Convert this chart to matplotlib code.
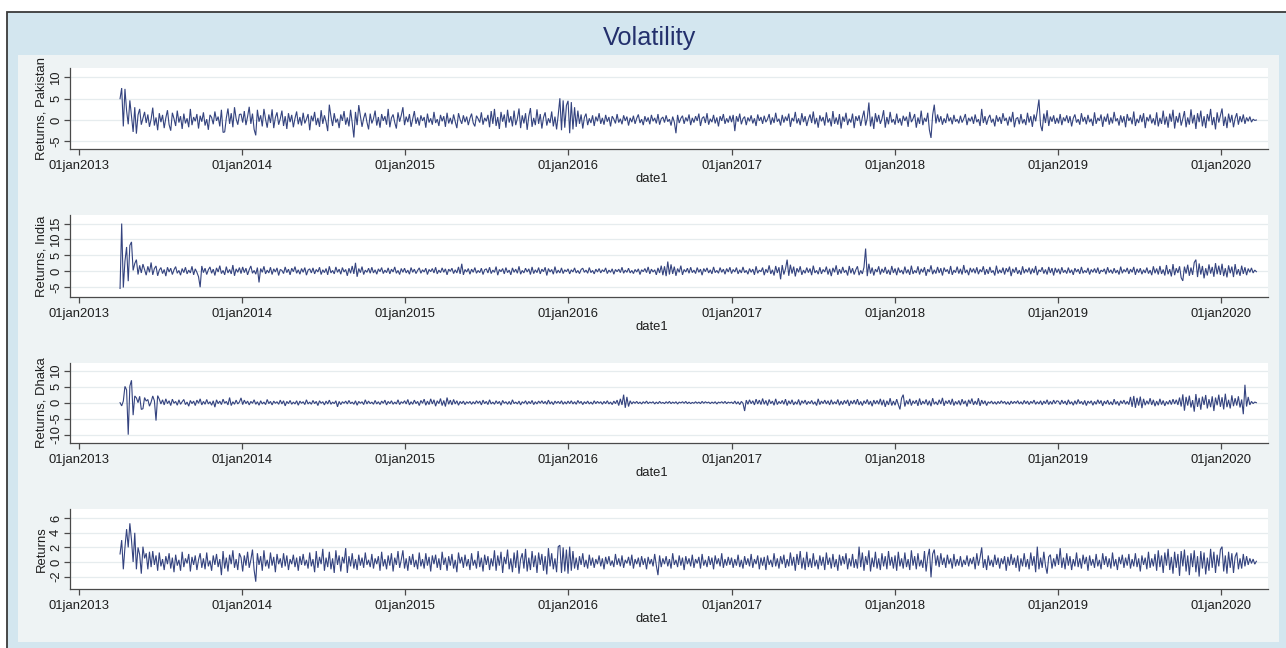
import matplotlib
matplotlib.use("Agg")
import matplotlib.pyplot as plt
import matplotlib.dates as mdates
from matplotlib.patches import Rectangle
from matplotlib.ticker import FuncFormatter, FixedLocator
import pandas as pd
import datetime as dt

plt.rcParams['font.family'] = ['Liberation Sans', 'DejaVu Sans']
plt.rcParams['axes.unicode_minus'] = False

# ---------------- data ----------------
start_date = "2013-04-03"
end_date = "2020-03-20"

pakistan = [
    # 2013
    5,7.5,-1.5,7.3,2.2,-1,4.6,1,-2.8,3,-3.2,1.2,2.6,-1.1,.4,1.9,-.7,1.3,-1.6,.2,2.9,-1.3,.6,-2.4,1.6,-.5,1.2,-1.9,.5,2.3,-1.1,-2.5,1.7,.3,-1.4,2.2,-.6,.9,-2.1,1.5,
    -.8,.4,-1.7,2.6,-1.2,.7,-.3,1.4,-2,1,-.4,1.8,-1.3,.2,-2.3,1.2,.6,-1,2,-.2,.8,-1.5,2.4,-2.9,-2.8,.5,2.7,-.9,1.6,-1.7,3,.3,-1.1,1.3,
    # 2014
    1.4,-.6,2.1,-1.2,.8,3.1,-.9,1.5,-2.2,-3.6,2.4,-.4,1.1,-1.5,2.6,.2,-1.8,1.3,-.7,2.5,
    -1.9,.6,1.8,-1.1,.3,2.2,-1.4,.9,-2.1,1.6,-.5,1.2,-1.7,.4,2,-1,.7,-1.3,1.7,-.8,
    .2,1.4,-2.4,1,-.3,1.9,-1.2,.5,-1.6,2.3,-.9,1.1,-.4,-2.6,3.6,.8,-1.4,1.6,-.6,.3,
    -1.9,1.3,-.2,2.1,-1.1,.6,-1.5,2.4,-.7,-4.1,1.9,-1.2,3.5,.9,-1.6,.4,1.7,-.5,-2.2,1.5,
    -.8,.3,2.2,-1.3,.7,-1.8,1.4,-.2,.9,-1.1,2.6,-1.7,.5,1.3,-.6,-2,1.8,-.4,1.1,3,
    # 2015
    -1.2,.8,-.5,1.4,-1.6,.3,2.1,-.9,.6,-1.3,1.1,-.2,.7,-1.8,1.5,-.6,.4,-1.1,1.9,-.7,
    .2,-1.4,1.2,-.3,.9,-1.6,1.7,-.8,.5,-1,1.3,-.4,-1.9,1.6,.1,-.9,1.1,-.5,.8,-1.2,
    .4,1.5,-.7,-1.5,1,.3,-.6,1.8,-1.1,.5,-.3,1.2,-1.7,2.1,-.9,2.6,-1.4,.7,-2.1,1.9,
    -.4,1.3,-1.8,2.4,-.6,.9,-1.5,2.2,-1.2,.3,2.7,-1.9,1.1,-.8,1.6,-2.3,.9,2.8,-1.6,.5,
    -1.2,2.5,-.9,1.4,-2,.6,1.8,-1.3,.4,-.7,2,-1.5,.8,-2.2,1.2,5.1,-2.4,4.6,-1.8,3.4,
    # 2016
    4.5,-3.1,4.2,-2.2,3,-1.6,2.2,-.9,1.3,-2,.6,1.5,-1.2,.4,-.7,1.1,-1.4,.8,-.3,1.6,
    -.9,.5,-1.1,1.2,-.4,.7,-1.5,.9,.2,-.8,1.4,-.6,.3,-1,1.1,-.2,.8,-1.3,.5,-.5,
    1,-.9,.4,1.3,-.7,.2,-1.2,.9,-.4,.6,-1,1.2,-.3,.5,-.8,1.4,-1.1,.3,.7,-.6,
    1.1,-.4,.2,-1.3,.8,-.5,-3.1,1.2,-.7,.4,1,-.9,.6,-.3,1.3,-1.2,.5,-.6,.9,-.2,
    1.5,-1.4,.4,.8,-.7,1.6,-1.1,.3,-.5,1.2,-.8,.6,-1.5,.9,-.2,1.4,-.9,.4,-.6,1,
    # 2017
    -.5,1.2,-2.6,.9,-.4,1.5,-1,.3,.8,-1.2,.6,-.3,1.1,-.8,.4,-1.4,1.3,-.2,.7,-.9,
    1,-.5,.2,1.4,-1.1,.6,-.7,1.7,-.4,.3,-1.3,1.2,-.6,.8,-.2,1.5,-1.6,.5,-.3,1.9,
    -.8,.4,-1.2,1.6,-.5,.9,-1.4,.2,1.3,-.7,2,-1,.5,-1.8,1.1,-.3,.7,-1.3,1.8,-.6,
    .4,-1.5,2.1,-.9,.6,-1.1,1.4,-2,.8,-.4,1.7,-1.2,.3,-.6,1.5,-1.9,.9,-.2,1.1,-1.4,
    .6,2.2,-1.3,.4,4.1,-1.5,.8,-2.1,1.6,-.5,1.2,-.9,.3,2.3,-1.8,.7,-1,1.9,-.6,.2,
    # 2018
    -1.1,1.5,-.7,.4,-1.3,1,-.2,.8,-1.6,1.9,-.5,.3,1.4,-1.8,.6,-.9,2.2,-1.2,.5,-.4,
    1.7,-2.3,-4.2,1.2,3.6,-.8,1.3,-.5,.9,-1.1,.4,-.7,1.5,-.3,.6,-1,1.2,-.4,.2,-.8,
    1,-.6,.3,1.4,-1.2,.5,-.3,.8,-.9,1.3,-.5,.2,-1.4,2.6,-.7,.9,-1.1,.4,1.2,-.6,
    .3,-1.5,1.1,-.4,.7,-.9,1.6,-.2,.5,-1.3,.8,-.5,1.9,-1.7,.3,.6,-1,1.4,-.8,.2,
    -1.2,1.7,-.6,.9,-1.6,1.3,-.3,2.1,4.8,-1.2,-2.6,1.5,-.7,2.3,-1.4,.8,-.4,1.1,-.9,.5,
    # 2019
    -.8,1.4,-1.2,.6,-.3,1.1,-.7,.9,-1.5,.4,1.3,-.6,.2,-1.1,1.6,-.4,.7,-1,1.2,-.5,
    .3,-1.4,1.8,-.9,.5,-.2,1.3,-1.6,.8,-.4,1.5,-1.1,.6,-.8,1.9,-.3,.4,-1.3,1.1,-.6,
    .9,-1.7,1.4,-.2,.6,-1,2,-1.4,.3,-.7,1.2,-.5,1.6,-1.9,.7,-.3,1.3,-.8,.4,-1.2,
    1.8,-1.5,.5,-.9,2.2,-1.1,.8,-1.8,1.5,-.4,2.4,-2,.9,-.6,1.7,-1.3,.3,2.1,-1.7,.6,
    -1.1,2.5,-.8,1.2,-2.1,1.6,-.5,2.2,-1.5,.9,-1.9,1.4,-.3,2.6,-1.2,.7,-2.2,1.8,-.6,1.1,
    # 2020
    2.7,-1.4,.8,-1.9,1.5,-.6,1.2,-1.7,.4,1.6,-1.1,.9,-.5,1.3,-.9,.6,-.3,.8,-.5,.2,-.1,0,
]

india = [
    # 2013
    -5.5,15,-5.2,3.1,7.6,-3.2,8.1,9.2,.2,2.4,3.6,-1.1,1.8,-.6,2.2,.4,-1.3,1.5,-.4,2.7,
    -1.2,.8,1.6,-1.5,.3,1.1,-.8,.5,-1.6,1.2,-.3,.9,-1.1,.4,1.4,-.7,.2,-1.3,.8,-.5,
    1.2,-.9,.3,-.6,1.5,-1.2,.7,-.4,-1.8,-5.1,1.6,-.5,.9,-1.1,.4,1.3,-.7,.6,-1.4,1,
    -.3,1.7,-.8,.2,-1.2,1.4,-.6,.5,-.9,1.9,-1.5,.7,-.4,1.1,
    # 2014
    -.8,1.3,-.5,.9,-1.2,.4,1.6,-.7,.2,-1,1.1,-3.6,.8,-.4,1.5,-.9,.3,-.6,1.2,-1.1,
    .7,-.3,1,-1.4,.5,.2,-.8,1.3,-.5,.6,-1.2,.9,-.2,1.4,-.7,.4,-1,.8,-.4,1.1,
    -1.3,.3,.7,-.6,1,-.9,.5,-.3,1.2,-1.1,.4,-.5,.8,-1.2,1.5,-.6,.2,-.9,1.3,-.4,
    .6,-1,1.1,-.3,.5,-1.5,.9,-.7,1.6,-.9,2.6,-1.8,.8,-.5,1.4,-1.1,.3,-.4,.9,-.7,
    1.2,-.6,.4,-1,.7,-.2,1.1,-.8,.3,-.5,1,-.9,.6,-.3,1.3,-.7,.2,-1.1,.8,-.4,
    # 2015
    .9,-.6,.3,-1,1.1,-.4,.6,-.8,.2,1,-.7,.4,-.3,.9,-1.1,.5,-.2,.8,-.6,1.2,
    -.9,.3,-.5,1,-.4,.7,-1.2,.6,-.1,.9,-.8,.4,-.6,1.3,-.9,2.3,-1.2,.5,-.3,.8,
    -1,.6,-.4,1.1,-.7,.2,-.5,.9,-1.1,.4,.7,-.6,1.2,-.8,.3,-.4,1.4,-1.3,.5,-.2,
    .8,-.9,1.1,-.5,.3,-1.2,1,-.4,.6,-.7,1.5,-1,.2,-.6,.9,-.3,.7,-1.1,1.3,-.8,
    .4,-.5,1.1,-.9,.6,-.2,1.2,-1.4,.8,-.3,.5,-1,1.4,-.7,.3,-.6,1,-.8,.4,-.2,
    # 2016
    .7,-.9,.4,-.3,1,-.6,.2,-.8,.5,.9,-.4,.3,-.7,1.1,-.5,.2,-.9,.6,-.3,.8,
    -.6,.4,-.2,1,-.8,.3,-.4,.7,-1,.5,-.2,.6,-.5,1.2,-.7,.3,-.4,.9,-.6,.2,
    -.8,.5,-.3,.7,-1.1,.4,-.2,.8,-.5,1.3,-.9,.6,-.3,.4,-1.2,1,-.6,1.7,-1.3,1.5,
    -1.6,3,-1.1,2.1,-.9,1.4,-1.5,.8,-.4,1.7,-1.2,.5,-.3,.9,-.7,1.2,-.5,.3,-.8,1.1,
    -.4,.6,-1.3,.8,-.2,1,-.6,.4,-.9,1.3,-.5,.2,-.7,1.1,-.4,.6,-1,.8,-.3,1.2,
    # 2017
    -.8,.5,-.3,1.1,-.9,.4,-.6,1.3,-.5,.2,-1,.8,-.4,.6,-1.2,1.5,-.7,.3,-.2,1.1,
    -1.3,.6,-.5,1.8,-.9,.4,-1.4,1.6,-.6,1.2,-2.6,1.9,-1.1,.7,3.6,-1.5,2,-.8,1.4,-1.7,
    .9,-.4,1.5,-1.2,.3,-.7,1.1,-.5,.8,-1.3,1.7,-.6,.2,-1,1.2,-.9,.5,-.3,1.4,-1.1,
    .7,-1.6,1,-.4,1.8,-1.2,.6,-.8,1.3,-.5,.3,-1.4,1.6,-.7,.9,-1.1,.4,1.5,-1.3,.2,
    -.9,1.2,7.1,-1.6,2.3,-.8,1.1,-1.4,.6,-.3,1.5,-1.1,.7,-.5,1.3,-.9,.4,-1.2,1.6,-.6,
    # 2018
    .8,-1.3,1.1,-.5,.3,-1,1.4,-.7,.5,-1.2,1.7,-.9,.2,-.6,1.5,-1.1,.7,-.4,1.2,-1.5,
    .6,-.3,1.8,-1,.4,-.8,1.3,-.6,.9,-1.4,1.1,-.2,.5,-.9,1.6,-1.2,.3,-.5,1.4,-.8,
    .7,-1.1,1.9,-.6,.4,-1.3,1,-.4,.8,-.7,1.2,-1,.5,-.3,1.5,-1.2,.6,-.9,1.3,-.5,
    .2,-1.4,1.7,-.8,.4,-.6,1.1,-1.1,.9,-.3,1.4,-1.6,.7,-.5,1.2,-.9,.3,-1.2,1.5,-.7,
    .6,-.4,1.1,-1,.8,-.6,1.6,-1.3,.4,-.2,1.2,-.8,.5,-1.1,1.3,-.6,.9,-1.4,1,-.5,
    # 2019
    .7,-1,1.2,-.5,.3,-.8,1.1,-.6,.4,-1.2,.9,-.3,.6,-.9,1.3,-.7,.2,-.5,1,-1.1,
    .5,-.4,.8,-.6,1.1,-.9,.3,-.2,.7,-1,1.2,-.5,.4,-.8,.9,-.6,.3,-1.1,1.4,-.7,
    .5,-.3,1,-.9,.6,-.4,1.3,-1.2,.7,-.5,.9,-1,.4,-.6,1.1,-.8,.3,-1.3,1.5,-.7,
    .8,-1.1,1.6,-.9,.5,-1.4,1.9,-1,.6,-1.7,2.2,-1.3,.9,-.6,1.5,-2.1,-3.1,1.4,-.8,2,
    -1.5,1.1,-1.2,2.7,3.6,-1.9,2.4,-1.1,1.6,-2.3,.9,-1.4,2.1,-.8,1.3,-1.8,2.5,-1,1.7,-1.2,
    # 2020
    2.3,-1.6,.9,-2,1.8,-.7,1.4,-1.9,2.2,-1.1,.6,-1.5,1.7,-.9,1.2,-1.3,.8,-.4,1,-.6,.3,-.2,
]

dhaka = [
    # 2013
    0,-1,.5,5.1,4,-10,5.2,7,-3.9,2.1,1.5,0,2,-2.1,-1.9,1.6,.5,1,-1.1,.2,2.1,.6,-5.6,2.2,1.1,-.4,.9,-.7,1.2,-.3,
    .6,-.9,1.1,-.2,.4,-.8,.9,-.5,.3,1,-.6,.2,-1.1,.7,-.3,.5,-.9,.8,-.2,1.2,
    -.7,.4,-.5,1,-.4,.3,-.8,.6,-1.4,.9,-.3,.5,-.6,1.1,-.2,.4,-.7,1.6,-.9,.3,-.5,.8,-.4,.2,
    # 2014
    1.5,-.6,.8,-.3,.5,-.7,.4,-.2,.9,-.5,.3,-.8,.6,-.4,.2,-.6,1,-.3,.4,-.7,
    .5,-.2,.3,-.5,.8,-.4,.6,-1,.4,-.3,.7,-.5,.2,-.4,.6,-.8,.5,-.2,.3,-.6,
    .9,-.4,.2,-.5,.7,-.3,.4,-.9,.6,-.2,.3,-.7,.5,-.4,.8,-.5,.2,-.3,.6,-1.3,
    .4,-.6,.3,-.2,.5,-.4,.7,-.3,.2,-.5,.6,-.8,.4,-.2,.3,-.6,.9,-.4,.5,-.3,
    .2,-.5,.7,-.4,.3,-.6,.5,-.2,.8,-.7,.4,-.3,.6,-.5,.2,-.4,.9,-.6,.3,-.2,
    # 2015
    .6,-.4,1,-.7,.3,-.5,.8,-.3,.4,-.9,.7,-.2,1.1,-.8,.5,-.6,1.2,-.4,.9,-1.1,
    .6,-.3,1.3,-.9,.7,-1.2,1.6,-.5,.8,-.7,1,-.4,.6,-.8,.4,-.3,.5,-.6,.3,-.2,
    .4,-.5,.3,-.4,.6,-.2,.5,-.7,.8,-.3,.4,-.6,.9,-.4,.2,-.5,.6,-.3,.4,-.8,
    .7,-.2,.3,-.5,.4,-.6,.9,-.3,.2,-.4,.5,-.7,.3,-.2,.6,-.5,.4,-.3,.7,-.6,
    .3,-.4,.5,-.2,.6,-.3,.4,-.5,.8,-.4,.3,-.6,.5,-.2,.4,-.3,.6,-.5,.3,-.4,
    # 2016
    .5,-.3,.6,-.4,.3,-.5,.7,-.2,.4,-.6,.3,-.3,.5,-.4,.2,-.5,.6,-.3,.4,-.2,
    .3,-.5,.4,-.3,.6,-.4,.2,-.6,.5,-.3,.8,-.9,1.2,-.7,2.5,-1.6,1.8,-1.2,.6,-.4,
    .3,-.2,.4,-.3,.2,-.4,.3,-.2,.5,-.3,.2,-.1,.3,-.4,.2,-.3,.4,-.2,.1,-.3,
    .3,-.2,.4,-.3,.2,-.2,.3,-.4,.2,-.1,.3,-.2,.4,-.3,.2,-.3,.1,-.2,.3,-.2,
    .2,-.3,.4,-.2,.3,-.1,.2,-.3,.2,-.2,.3,-.4,.2,-.1,.3,-.2,.4,-.3,.2,-.1,
    # 2017
    .2,-.3,.5,-.4,.3,-.6,.4,-.2,-2.6,.8,-.5,.9,-.3,.6,-.7,1.1,-.4,.8,-.6,1.3,
    -.5,.7,-.9,1,-.3,.5,-.8,1.2,-.6,.4,-.3,.7,-.5,1.1,-.9,.6,-.4,.9,-.7,.3,
    -.5,1,-.8,.6,-.2,.8,-.6,.4,-.3,.7,-.5,.3,-.9,1.2,-.6,.5,-.3,.8,-.4,.6,
    -.7,.9,-.5,.3,-.4,1,-.8,.5,-.6,.7,-.3,.9,-1,.6,-.4,.8,-.5,1.1,-.7,.4,
    -.9,.6,-.3,1,-.6,.5,-1.1,.8,-.4,.7,-.5,1.2,-.8,.9,-1.3,.6,-.7,1.4,-.9,.5,
    # 2018
    -.8,1.1,-.6,-2.1,1.4,2.5,-1.2,.7,-.5,1.2,-.9,.6,-.3,.8,-1,1.3,-.7,.5,-.4,1,
    -.8,.6,-1.1,1.4,-.5,.3,-.7,.9,-.4,1.5,-1,.6,-.3,.8,-.6,1.2,-.9,.4,-.5,.7,
    -.8,1.1,-.4,.6,-1.2,.9,-.3,1.3,-.7,.5,-.6,1.4,-1,.8,-.4,.6,-.9,.3,-.2,.5,
    -.4,.3,-.5,.4,-.3,.6,-.2,.4,-.5,.3,-.6,.5,-.3,.4,-.2,.6,-.4,.3,-.5,.7,
    -.3,.5,-.6,.4,-.2,.8,-.5,.3,-.4,.6,-.7,.5,-.3,.9,-.6,.4,-.5,.8,-.3,.6,
    # 2019
    .4,-.6,.8,-.3,.5,-.7,.9,-.4,.3,-.8,.6,-.5,1,-.3,.4,-.6,.7,-.9,.5,-.2,
    .6,-.8,.4,-.5,.9,-.3,.7,-1,.5,-.4,.8,-.6,.3,-.7,1.1,-.5,.4,-.9,.6,-.3,
    .8,-.5,.4,-.6,1.8,-1.3,2.1,-1.6,1.5,-.9,1.9,-1.7,1.2,-.8,.6,-.5,1.4,-.7,.9,-1.1,
    .5,-.8,1.2,-.6,.7,-1,.4,-.5,.8,-.6,1.1,-.4,.9,-.7,1.6,-1.2,2.6,-2.5,1.8,-.9,
    2.2,-1.5,.8,-2.8,2.7,-1.3,1.5,-2.2,1.9,-.7,2.4,-1.8,1.1,-1.4,2,-2.6,1.6,-.8,2.5,-1.3,
    # 2020
    1.7,-2.1,2.8,-1.4,.9,-1.8,2.3,-1.1,1.4,-.9,2,-1.5,1,-3.6,5.6,-1.2,1.8,-.7,.4,-.3,.2,0,
]

returns = [
    # 2013
    1.1,3,-1,2,4.5,2,5.3,3,0,4,-1,2,1,-1.6,2.1,.5,1.2,-1,1.4,-.7,
    1.5,-.4,.9,-1.2,1.3,-.6,.4,-1.1,.8,-.3,1.2,-.9,.6,-1.4,1,-.5,.3,-1.2,1.4,-.7,
    .5,-.2,1.1,-1.3,.7,-.4,.9,-1.1,.3,1.2,-.8,.5,-1,1.3,-.6,.2,-1.2,.9,-.4,1.1,
    -.7,.4,-1.8,1.5,-.9,.6,-1.3,1,-.3,1.6,-.8,.4,-1.1,1.2,
    # 2014
    .6,-1.3,.9,-.5,1.4,-.8,.3,1.7,-1.1,-2.7,1.2,-.4,.8,-1.2,1.6,-.6,.3,-.9,1.3,-.5,
    .7,-1.4,1.1,-.3,.5,-.8,1.2,-.6,.9,-1.1,.4,-.3,1,-.7,.6,-1.2,.8,-.4,1.1,-.5,
    .3,-.9,1.3,-.6,.4,-1.4,1.5,-.8,.7,-.3,1.8,-1.2,.6,-.7,1.4,-1,.5,-1.5,1.6,-.4,
    .9,-1.3,.7,-.2,1.9,-1.5,.8,-.6,1.2,-.9,.4,-1.1,1,-.5,.6,-.8,1.3,-.4,.3,-.7,
    1.1,-.9,.5,-.3,.8,-1.2,1.4,-.6,.4,-1,.9,-.5,1.2,-1.3,.6,-.4,1.5,-.8,.3,1.6,
    # 2015
    -.9,.5,-1.2,.8,-.4,1.1,-.7,.3,-1,1.3,-.6,.4,-.9,1.2,-.5,.7,-1.3,.9,-.3,1,
    -.8,.5,-1.1,1.4,-.4,.6,-1.2,.8,-.5,1.1,-.9,.3,-1.4,1.3,-.2,.7,-.8,1,-.6,.4,
    -1.1,1.2,-.5,.3,-.9,1.5,-.7,.6,-1.3,1,-.4,.8,-1.1,.5,-.6,1.6,-1.2,.9,-.5,1.4,
    -1.5,.7,-.3,1.7,-1,.5,-1.4,1.3,-.8,1.6,-1.6,.4,1.2,-.9,1.8,-1.3,.6,-1.1,1.5,-.7,
    .9,-1.5,1.3,-.4,1.1,-1.2,.8,-1.7,1.9,-.6,1.2,-1,.5,-1.4,2.1,2.3,-1.5,2,-1.3,1.7,
    # 2016
    -1.6,2.1,-1.2,1.5,-.9,.6,-1.1,.8,-.4,1.2,-.7,.3,-.9,1,-.5,.6,-.8,.4,-.3,.9,
    -.6,.5,-1,.7,-.3,.8,-.5,.2,-.7,1.1,-.4,.5,-.6,.9,-.8,.3,-.2,.7,-.5,1,
    -.9,.4,-.3,.6,-.7,.8,-.4,.5,-1,.7,-.3,.4,-.6,1.1,-.5,-1.8,.9,-.7,.5,-.3,
    .8,-.6,.4,-.9,1.2,-.4,.3,-.7,.9,-.5,.6,-1.1,.8,-.3,.5,-.6,1,-.8,.4,-.2,
    .7,-.9,1.1,-.5,.3,-.7,.8,-.4,.6,-1,.9,-.3,.5,-.6,1.2,-.8,.4,-.5,.7,-.4,
    # 2017
    .6,-.8,.4,-.5,1,-.7,.3,-.9,.8,-.4,.5,-.6,1.1,-.8,.4,-.3,.9,-1,.6,-.5,
    .7,-1.1,.9,-.4,.3,-.7,1.2,-.6,.5,-.9,.8,-.3,1,-.8,.4,-.6,1.3,-.5,.7,-1.2,
    1.1,-.4,1.5,-.9,.6,-1.1,1.4,-.7,.5,-.8,1.2,-.6,.3,-1,.9,-.5,.7,-1.1,1.3,-.4,
    .6,-.9,1.1,-.7,.4,-1.2,1,-.5,.8,-.3,1.2,-1,.5,-.6,1.1,-.8,.4,-.9,2.1,-.7,
    1.3,-1.2,.8,-.4,1.6,-1.3,.6,-.7,1.4,-.9,.5,-1.1,1.2,-.6,.8,-1,1.5,-.5,.7,-.9,
    # 2018
    .9,-1.2,1.4,-.6,.5,-.9,1.3,-.7,.4,-1.1,1.6,-.5,.8,-1,1.2,-.6,.3,-.8,1.5,-1.3,
    .7,1.8,-2.1,1.1,1.7,-.5,.9,-.7,1.2,-.4,.6,-.8,1,-.3,.5,-.9,1.1,-.6,.4,-.5,
    .8,-.7,.3,-.4,.9,-.6,.5,-.3,.7,-1,1.2,-.5,.6,2,-.8,.4,-1.1,.9,-.5,.3,
    -.7,1,-.4,.6,-.9,.5,-.3,.8,-1.2,.7,-.5,1.1,-.4,.6,-.8,.9,-1.3,.5,-.6,1.2,
    -.7,.4,-1,1.3,-.5,.8,-1.4,2.1,-1,.6,-.8,1.4,-.5,-1.6,.7,1,-.9,.5,-.6,1.1,
    # 2019
    -.4,1.9,-.8,.6,-1,1.2,-.5,.8,-1.1,.4,-.6,1.3,-.7,.5,-.9,1,-.3,.7,-1.2,.9,
    -.5,.4,-.8,1.1,-.6,.3,-1,1.2,-.4,.8,-.7,.5,-.9,1.3,-.6,.4,-1.1,.7,-.3,1,
    -.8,.6,-.5,1.1,-.9,.4,-.6,1.2,-.7,.5,-1.3,.9,-.4,.6,-1,1.4,-.8,.5,-.6,1.1,
    -1.2,1.6,-.7,.9,-1.5,1.3,-.5,1.8,-1.1,.7,-1.6,1.4,-.8,1.1,-1.9,1.5,-.6,1.7,-1.3,.9,
    -1.8,1.2,-.7,1.6,-1.4,.8,-2,1.5,-.9,1.3,-1.7,.6,-1.2,1.8,-.8,1.4,-1.5,1,-.6,1.7,
    # 2020
    2.1,-1.3,.9,-1.6,1.4,-.8,1.2,-1.5,.7,1.3,-1,.5,-.9,1.1,-.6,.8,-.4,.5,-.2,.4,-.3,.1,
]

y_titles = ["Returns, Pakistan", "Returns, India", "Returns, Dhaka", "Returns"]
y_ticks = [[-5, 0, 5, 10], [-5, 0, 5, 10, 15], [-10, -5, 0, 5, 10], [-2, 0, 2, 4, 6]]
x_tick_years = [2013, 2014, 2015, 2016, 2017, 2018, 2019, 2020]
title = "Volatility"
x_title = "date1"

# ---------------- layout / style ----------------
W, H = 1286, 648
def fx(x): return x / W
def fy(y): return 1 - y / H

LINE = '#34437f'
AXC = '#4a4a4a'
FS = 9.4

fig = plt.figure(figsize=(W / 100, H / 100), dpi=100)
fig.patch.set_facecolor('white')
fig.patches.append(Rectangle((fx(7), fy(660)), fx(1300) - fx(7), fy(12) - fy(660),
                             transform=fig.transFigure, facecolor='#d3e6ef',
                             edgecolor='#3a3a3a', lw=1.3, zorder=-5))
fig.patches.append(Rectangle((fx(18), fy(642)), fx(1279) - fx(18), fy(55) - fy(642),
                             transform=fig.transFigure, facecolor='#eef3f4',
                             edgecolor='none', zorder=-4))
fig.text(fx(650), fy(38), title, ha='center', va='center', fontsize=18.2, color='#23306c')

# panel geometry: (top px, bottom px, ylim)
panels = [
    (68, 149, (-6.8, 12.2)),
    (215, 296.7, (-8.1, 17.7)),
    (362.7, 443.3, (-12.7, 12.5)),
    (509, 589, (-3.7, 7.26)),
]
series = [pakistan, india, dhaka, returns]

xmin = mdates.date2num(dt.datetime(2012, 12, 12))
xmax = mdates.date2num(dt.datetime(2020, 4, 15))
left_px, right_px = 70, 1268

def fmt_date(v, pos=None):
    d = mdates.num2date(v)
    return d.strftime('%d%b%Y').lower()

for (top, bot, ylim), vals, yt, ytitle in zip(panels, series, y_ticks, y_titles):
    ax = fig.add_axes([fx(left_px), fy(bot), fx(right_px) - fx(left_px), fy(top) - fy(bot)])
    ax.set_zorder(1)
    ax.set_facecolor('white')
    dates = pd.date_range(start_date, end_date, periods=len(vals))
    ax.plot(dates, vals, color=LINE, lw=0.8, solid_joinstyle='miter')
    ax.set_xlim(xmin, xmax)
    ax.set_ylim(*ylim)
    for s in ['top', 'right']:
        ax.spines[s].set_visible(False)
    for s in ['left', 'bottom']:
        ax.spines[s].set_color(AXC)
        ax.spines[s].set_linewidth(0.9)
    ax.xaxis.set_major_locator(FixedLocator([mdates.date2num(dt.datetime(y, 1, 1)) for y in x_tick_years]))
    ax.xaxis.set_major_formatter(FuncFormatter(fmt_date))
    ax.set_yticks(yt)
    ax.tick_params(axis='both', direction='out', length=4.5, width=0.9, color=AXC,
                   labelsize=FS, labelcolor='#1e1e1e')
    ax.tick_params(axis='y', pad=1.2)
    ax.tick_params(axis='x', pad=3.5)
    for lab in ax.get_yticklabels():
        lab.set_rotation(90)
        lab.set_va('center')
    ax.yaxis.grid(True, color='#e6ecee', lw=0.9)
    ax.xaxis.grid(False)
    ax.set_axisbelow(True)
    fig.text(fx(42), fy((top + bot) / 2), ytitle, rotation=90, ha='center', va='center',
             fontsize=FS, color='#1e1e1e')
    fig.text(fx(652), fy(bot + 30), x_title, ha='center', va='center', fontsize=FS, color='#1e1e1e')

fig.savefig('out.png', dpi=100, facecolor=fig.get_facecolor())
